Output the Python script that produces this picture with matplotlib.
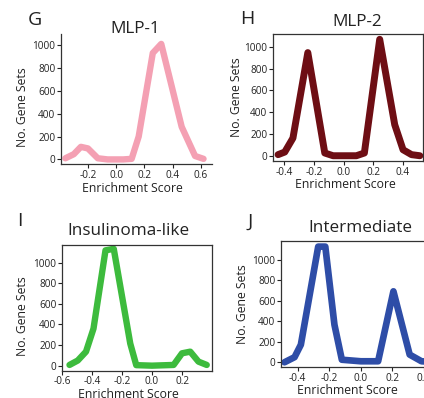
import matplotlib
matplotlib.use('Agg')
import matplotlib.pyplot as plt

plt.rcParams['font.family'] = ['Open Sans', 'DejaVu Sans']

# values
g_x = [-0.36, -0.30, -0.25, -0.20, -0.13, -0.06, 0.0, 0.05, 0.11, 0.16, 0.26, 0.32, 0.465, 0.56, 0.62]
g_y = [10, 46, 110, 96, 10, 0, 0, 0, 5, 200, 930, 1010, 285, 30, 5]

h_x = [-0.44, -0.395, -0.34, -0.24, -0.126, -0.07, 0.0, 0.086, 0.14, 0.243, 0.344, 0.40, 0.457, 0.513]
h_y = [10, 34, 162, 946, 25, 0, 0, 0, 25, 1068, 285, 55, 10, 0]

i_x = [-0.55, -0.495, -0.44, -0.39, -0.31, -0.255, -0.145, -0.105, 0.0, 0.144, 0.2, 0.255, 0.31, 0.365]
i_y = [7, 50, 136, 360, 1120, 1135, 215, 5, 0, 7, 120, 136, 39, 7]

j_x = [-0.484, -0.42, -0.38, -0.27, -0.225, -0.167, -0.12, 0.0, 0.11, 0.207, 0.31, 0.385, 0.44]
j_y = [0, 50, 172, 1131, 1131, 367, 25, 10, 10, 694, 75, 10, 5]

y_ticks = [0, 200, 400, 600, 800, 1000]

W, H = 424, 398
fig = plt.figure(figsize=(W / 100, H / 100), dpi=100)


def box(left, top, right, bottom):
    return [left / W, 1 - bottom / H, (right - left) / W, (bottom - top) / H]


def panel(rect, x, y, color, xlim, ylim, xticks, spines, lw):
    ax = fig.add_axes(rect)
    ax.plot(x, y, color=color, lw=lw, solid_joinstyle='round', solid_capstyle='round')
    ax.set_xlim(*xlim)
    ax.set_ylim(*ylim)
    ax.set_xticks(xticks)
    ax.set_xticklabels([f'{t:.1f}' for t in xticks])
    ax.set_yticks(y_ticks)
    ax.tick_params(labelsize=7.2, length=3, width=0.8, pad=1, colors='#222222')
    for s in ['top', 'right', 'left', 'bottom']:
        ax.spines[s].set_visible(s in spines)
        ax.spines[s].set_color('#333333')
        ax.spines[s].set_linewidth(0.9)
    return ax


panel(box(61, 33.6, 212, 164), g_x, g_y, '#F4A0B3', (-0.391, 0.68), (-40, 1100),
      [-0.2, 0.0, 0.2, 0.4, 0.6], ['left', 'bottom'], 4.6)
panel(box(273, 34.3, 423, 161.3), h_x, h_y, '#6E0E14', (-0.474, 0.534), (-51, 1114),
      [-0.4, -0.2, 0.0, 0.2, 0.4], ['left', 'bottom', 'top', 'right'], 5.0)
panel(box(62, 245, 212, 370.5), i_x, i_y, '#3DBB3D', (-0.593, 0.40), (-47, 1172),
      [-0.6, -0.4, -0.2, 0.0, 0.2], ['left', 'bottom', 'top', 'right'], 4.6)
panel(box(281, 241.3, 430, 367.3), j_x, j_y, '#2E4DA7', (-0.506, 0.439), (-49, 1183),
      [-0.4, -0.2, 0.0, 0.2, 0.4], ['left', 'bottom', 'top'], 4.8)


def label(x, y, s, size, rot=0):
    fig.text(x / W, 1 - y / H, s, fontsize=size, rotation=rot, ha='center', va='center', color='#222222')


for (x, y, s) in [(34.5, 20, 'G'), (247, 19, 'H'), (19.5, 220.5, 'I'), (250.5, 221.5, 'J')]:
    label(x, y, s, 14)
for (x, y, s) in [(135, 29, 'MLP-1'), (357, 22, 'MLP-2'), (128, 231, 'Insulinoma-like'), (360, 228, 'Intermediate')]:
    label(x, y, s, 12.3)
for (x, y) in [(22.5, 107), (236, 97), (22.5, 316), (243, 304)]:
    label(x, y, 'No. Gene Sets', 8.8, 90)
for (x, y) in [(132, 188), (345, 185), (128, 394.5), (347, 391)]:
    label(x, y, 'Enrichment Score', 8.8)

fig.savefig('out.png', dpi=100)
